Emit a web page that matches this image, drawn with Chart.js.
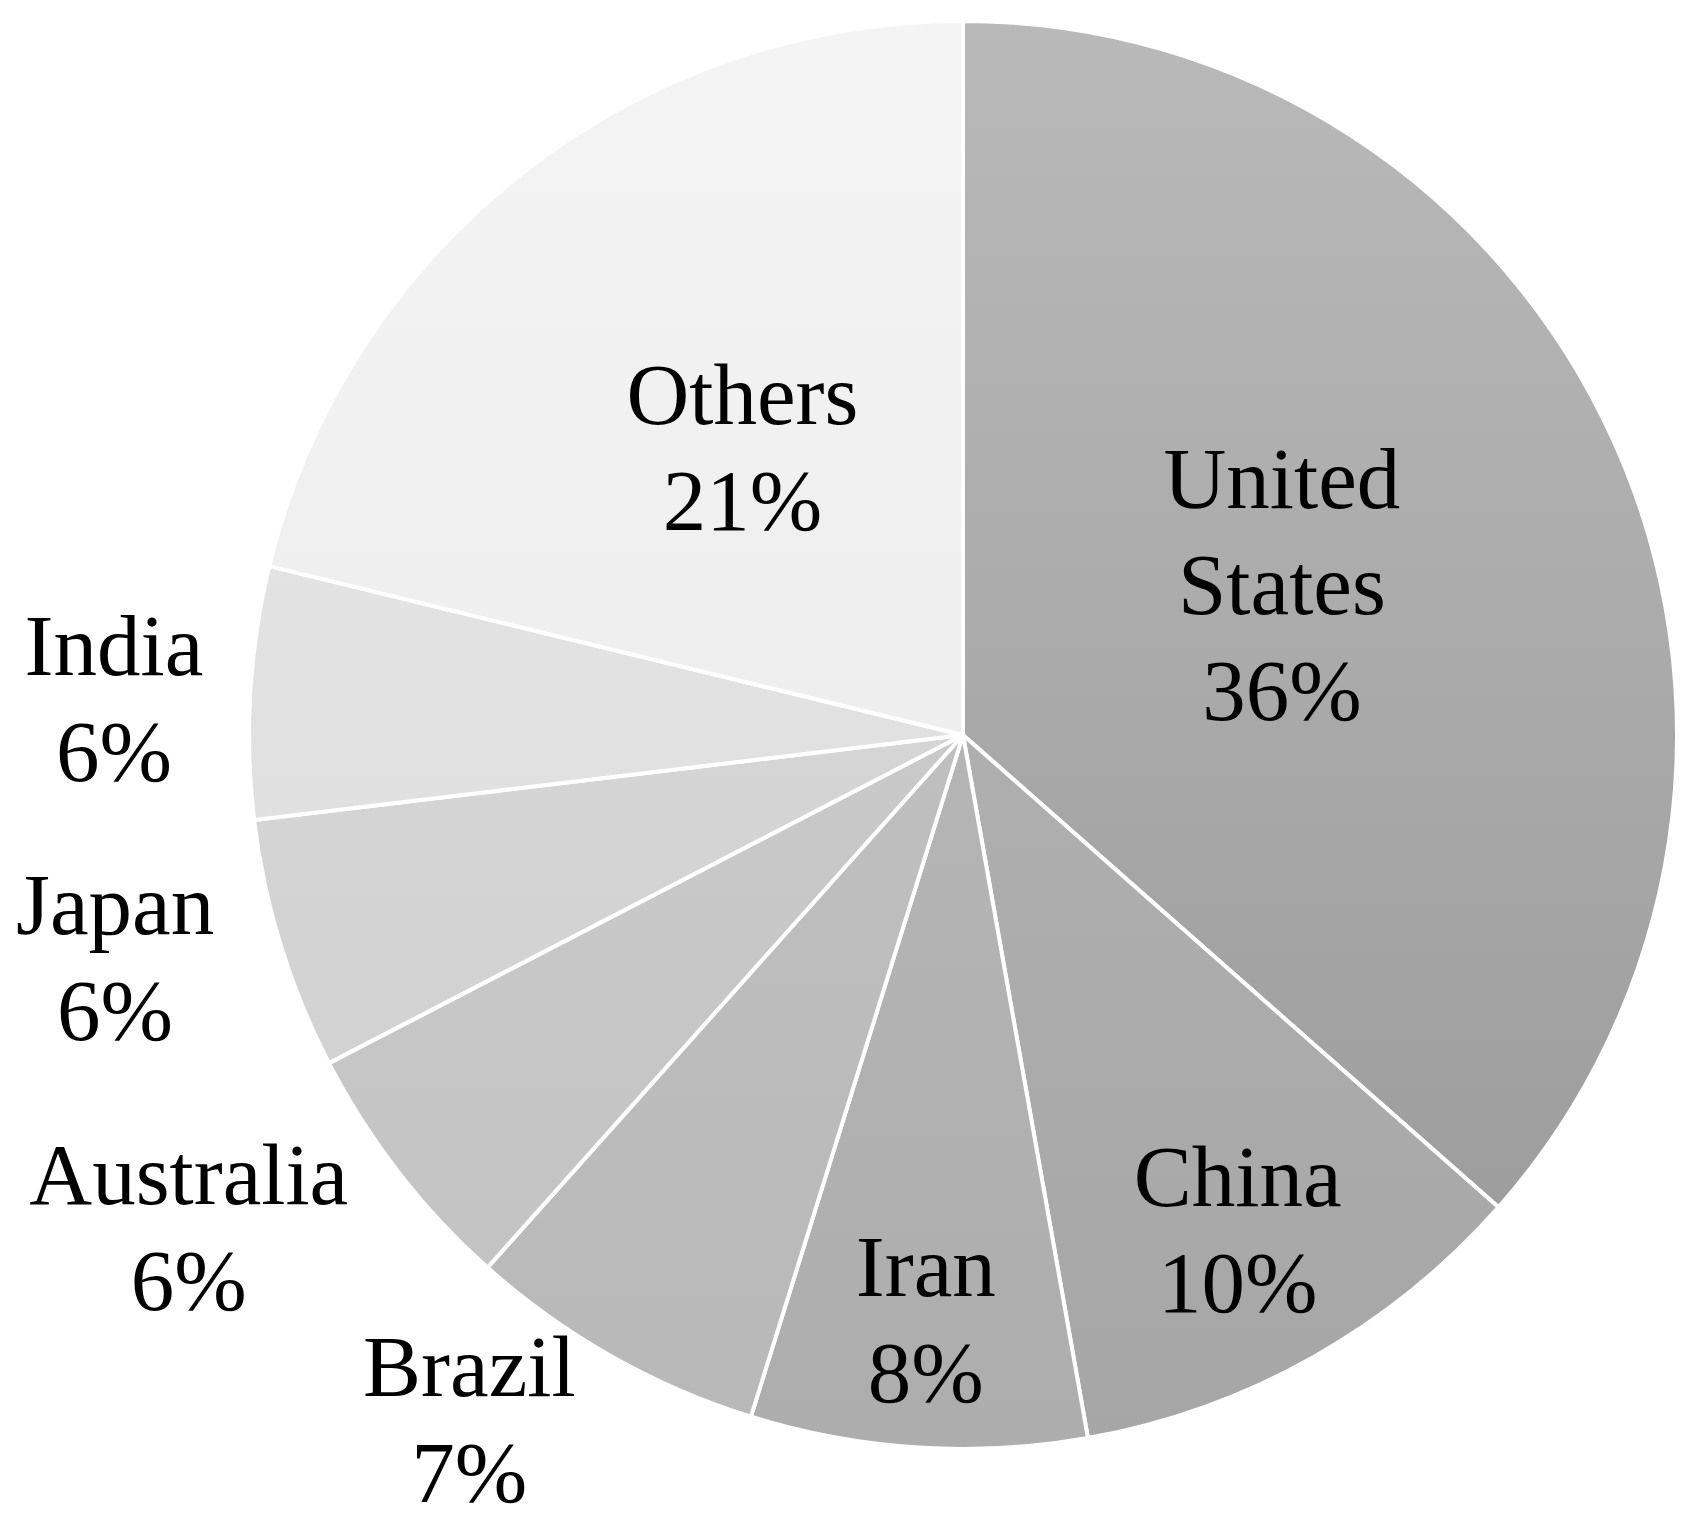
<!DOCTYPE html>
<html>
<head>
<meta charset="utf-8">
<script src="https://cdn.jsdelivr.net/npm/chart.js@4/dist/chart.umd.min.js"></script>
<style>
  html, body { margin: 0; padding: 0; background: #ffffff; }
  #wrap { width: 1702px; height: 1536px; }
</style>
</head>
<body>
<div id="wrap"><canvas id="pieChart" width="1702" height="1536"></canvas></div>
<script>
const countries = [['United', 'States'], 'China', 'Iran', 'Brazil', 'Australia', 'Japan', 'India', 'Others'];
const shares = [36.5, 10.7, 7.6, 6.8, 5.8, 5.7, 5.7, 21.2];
const shareLabels = ['36%', '10%', '8%', '7%', '6%', '6%', '6%', '21%'];

// light (top) / dark (bottom) shade of each slice
const topShade = ['#b9b9b9', '#b8b8b8', '#bdbdbd', '#c6c6c6', '#d0d0d0', '#dcdcdc', '#e8e8e8', '#f4f4f4'];
const bottomShade = ['#989898', '#a6a6a6', '#adadad', '#b8b8b8', '#c2c2c2', '#cecece', '#dadada', '#e8e8e8'];

// label placement: distance from centre (fraction of radius) and small turn off the slice middle (degrees)
const labelDist = [0.49, 0.80, 0.83, 1.19, 1.29, 1.23, 1.19, 0.50];
const labelTurn = [0, 0.6, 0, 6, 5, 2, -1.4, 0];

const labelFont = '87px "Liberation Serif", "DejaVu Serif", serif';

const sliceLabels = {
    id: 'sliceLabels',
    afterDatasetsDraw(chart) {
        const ctx = chart.ctx;
        const arcs = chart.getDatasetMeta(0).data;
        ctx.save();
        ctx.font = labelFont;
        ctx.fillStyle = '#000000';
        ctx.textAlign = 'center';
        ctx.textBaseline = 'middle';
        const lineH = 106;
        arcs.forEach((arc, i) => {
            const mid = (arc.startAngle + arc.endAngle) / 2 + labelTurn[i] * Math.PI / 180;
            const r = arc.outerRadius * labelDist[i];
            const cx = arc.x + Math.cos(mid) * r;
            const cy = arc.y + Math.sin(mid) * r;
            const name = Array.isArray(countries[i]) ? countries[i] : [countries[i]];
            const lines = name.concat([shareLabels[i]]);
            const y0 = cy - (lines.length - 1) * lineH / 2;
            lines.forEach((t, k) => ctx.fillText(t, cx, y0 + k * lineH));
        });
        ctx.restore();
    }
};

function shade(context) {
    const chart = context.chart;
    const area = chart.chartArea;
    const i = context.dataIndex;
    if (!area) return topShade[i];
    const g = chart.ctx.createLinearGradient(0, area.top, 0, area.bottom);
    g.addColorStop(0, topShade[i]);
    g.addColorStop(1, bottomShade[i]);
    return g;
}

const ctx = document.getElementById('pieChart').getContext('2d');
const pieChart = new Chart(ctx, {
    type: 'pie',
    data: {
        labels: countries,
        datasets: [{
            data: shares,
            backgroundColor: shade,
            borderColor: '#ffffff',
            borderWidth: 4
        }]
    },
    options: {
        responsive: false,
        animation: false,
        layout: {
            padding: { left: 247, right: 23, top: 19, bottom: 85 }
        },
        plugins: {
            legend: { display: false },
            tooltip: { enabled: false }
        }
    },
    plugins: [sliceLabels]
});
</script>
</body>
</html>
